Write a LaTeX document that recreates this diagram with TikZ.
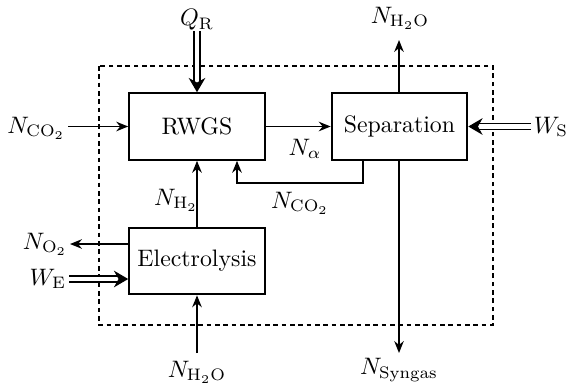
\documentclass[tikz,border=0pt]{standalone}
\usepackage{amsmath,amssymb}
\usepackage{tikz}
\usetikzlibrary{arrows.meta,decorations.markings}

\begin{document}
\begin{tikzpicture}[x=0.42pt,y=-0.42pt,
	block/.style={draw, line width=0.8pt, minimum width=57pt, minimum height=28pt, inner sep=0pt},
	flow/.style={-{Stealth[length=5pt,width=4pt]}, line width=0.7pt},
	power/.style={double, double distance=2pt, line width=0.6pt, shorten >=4pt,
		postaction={decorate, decoration={markings,
			mark=at position 1 with {\arrow[line width=0.6pt]{Stealth[length=6pt,width=7pt]}}}}},
	lbl/.style={inner sep=1pt}]
			\useasboundingbox (0,0) rectangle (566,384);
			\draw[dash pattern=on 2pt off 1.5pt, line width=0.7pt] (99,66) rectangle (493,325);
		
			\node[block] (rwgs) at (197,126.5) {RWGS};
			\node[block] (sep) at (399.5,126.5) {Separation};
			\node[block] (elec) at (197,261) {Electrolysis};
		
			\node[lbl] (qr) at (197,20) {$Q_{\mathrm{R}}$};
			\node[lbl, anchor=east] (nco2in) at (68,128) {$N_{\mathrm{CO_2}}$};
			\node[lbl] (nalpha) at (305,149) {$N_{\alpha}$};
			\node[lbl] (nh2oout) at (400,18) {$N_{\mathrm{H_2O}}$};
			\node[lbl, anchor=west] (ws) at (531,127) {$W_{\mathrm{S}}$};
			\node[lbl] (nco2rec) at (300,203) {$N_{\mathrm{CO_2}}$};
			\node[lbl] (nh2) at (176,200) {$N_{\mathrm{H_2}}$};
			\node[lbl, anchor=east] (no2) at (70,244) {$N_{\mathrm{O_2}}$};
			\node[lbl, anchor=east] (we) at (69,279) {$W_{\mathrm{E}}$};
			\node[lbl] (nh2oin) at (197,372) {$N_{\mathrm{H_2O}}$};
			\node[lbl] (nsyn) at (399,370) {$N_{\mathrm{Syngas}}$};
		
			\coordinate (recA) at (363,183);
			\coordinate (recB) at (237,183);
			\coordinate (qrtop) at (197,31);
			\coordinate (h2otop) at (399,40);
			\coordinate (syngasend) at (399,353);
			\coordinate (h2obot) at (197,353);
		
			\draw[power] (qrtop) to (rwgs.north);
			\draw[flow] (nco2in.east |- rwgs.west) to (rwgs.west);
			\draw[flow] (rwgs.east) to (sep.west);
			\draw[flow] (sep.north -| h2otop) to (h2otop);
			\draw[power] (ws.west |- sep.east) to (sep.east);
			\draw[flow] (recA |- sep.south) -- (recA) -- (recB) -- (recB |- rwgs.south);
			\draw[flow] (elec.north) to (rwgs.south);
			\draw[flow] (elec.west |- no2.east) to (no2.east);
			\draw[power] (we.east) to (elec.west |- we.east);
			\draw[flow] (h2obot) to (elec.south);
			\draw[flow] (sep.south -| syngasend) to (syngasend);
		\end{tikzpicture}
\end{document}
